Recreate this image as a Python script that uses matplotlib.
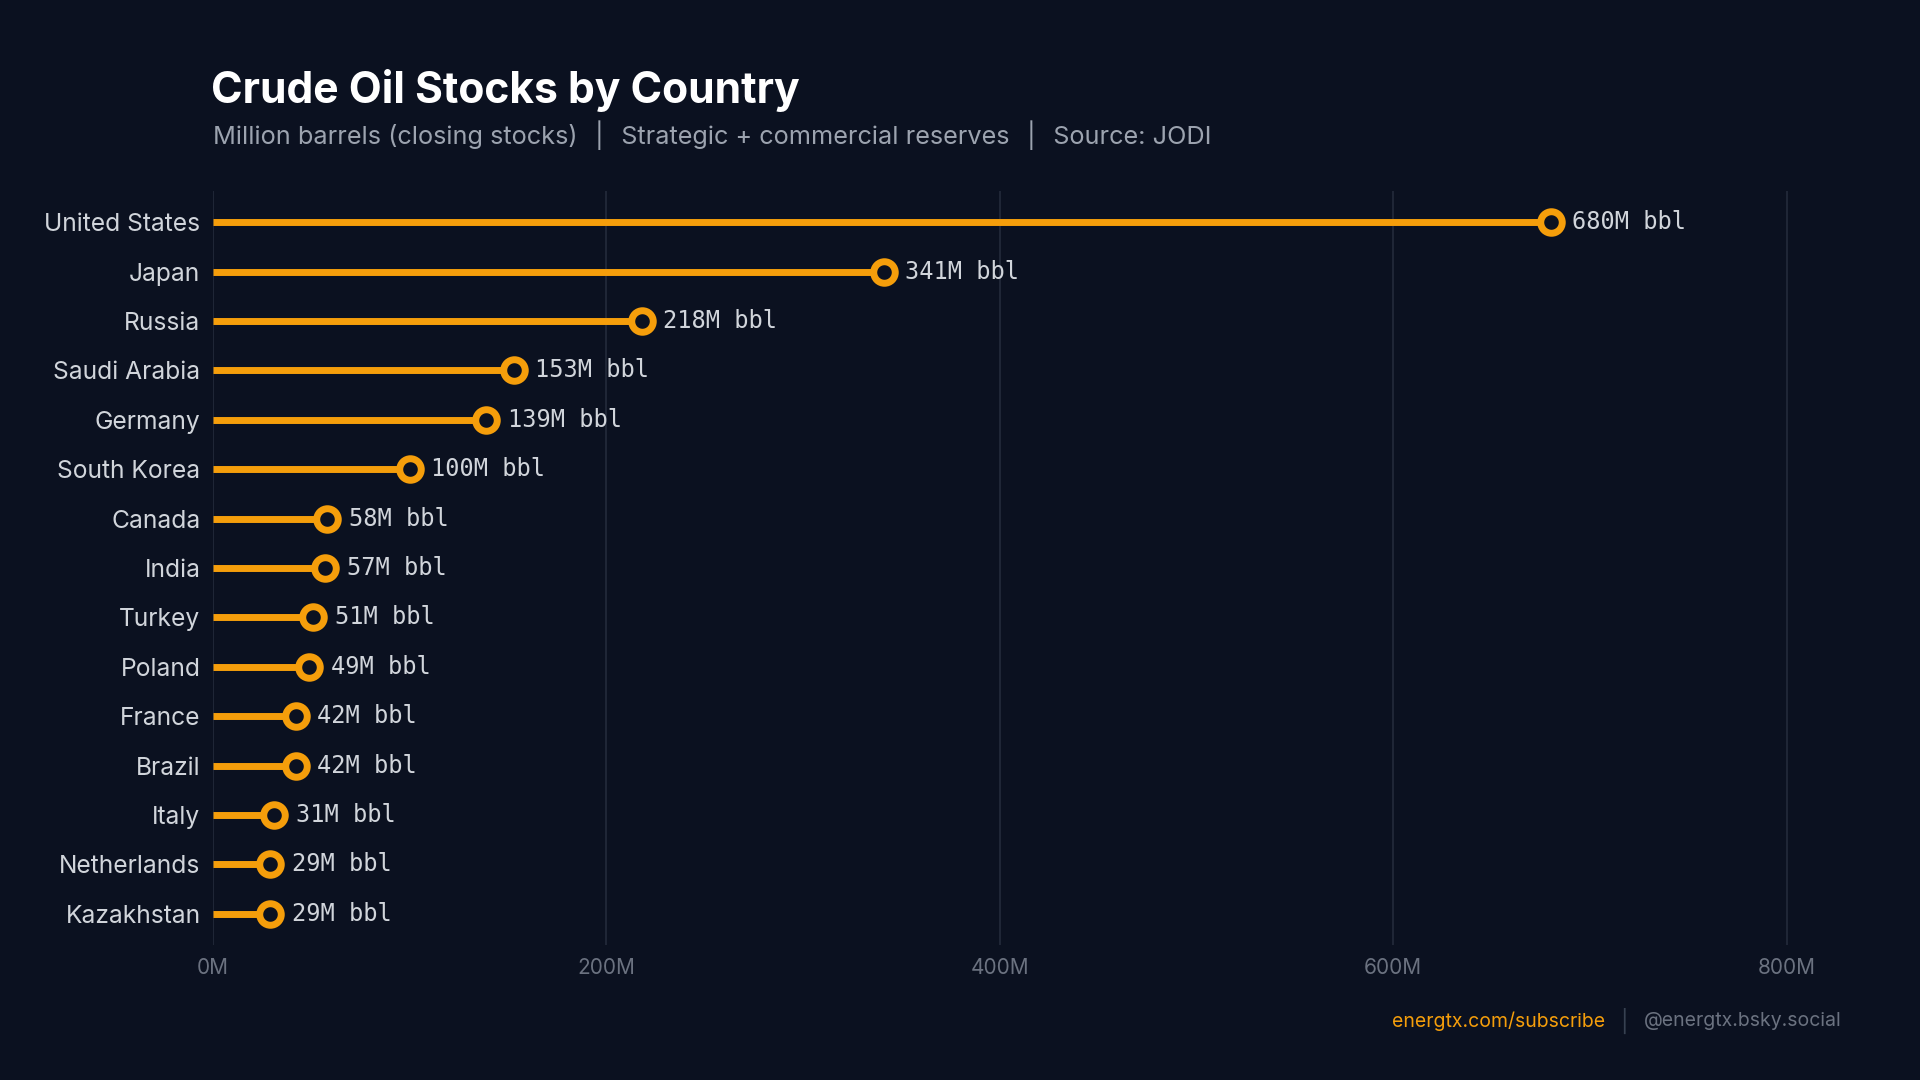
import matplotlib
matplotlib.use("Agg")
import matplotlib.pyplot as plt
from matplotlib.ticker import FuncFormatter

countries = ["United States", "Japan", "Russia", "Saudi Arabia", "Germany",
             "South Korea", "Canada", "India", "Turkey", "Poland", "France",
             "Brazil", "Italy", "Netherlands", "Kazakhstan"]
stocks = [680, 341, 218, 153, 139, 100, 58, 57, 51, 49, 42, 42, 31, 29, 29]
x_ticks = [0, 200, 400, 600, 800]

BG = "#0b1120"
ORANGE = "#f59e0b"
GRID = "#1f2636"
LABEL = "#d1d5db"
SUB = "#9ca3af"
TICK = "#6b7280"

plt.rcParams['font.family'] = ['Inter', 'DejaVu Sans']

fig = plt.figure(figsize=(19.2, 10.8), dpi=100, facecolor=BG)
ax = fig.add_axes([213/1920, 1 - 945/1080, (1826 - 213)/1920, (945 - 191)/1080])
ax.set_facecolor(BG)

n = len(countries)
ypos = list(range(n))
ax.hlines(ypos, 0, stocks, color=ORANGE, linewidth=5, zorder=3)
ax.plot(stocks, ypos, 'o', markersize=15.5, markerfacecolor=BG,
        markeredgecolor=ORANGE, markeredgewidth=5.0, zorder=4, linestyle='none')

for y, v in zip(ypos, stocks):
    ax.annotate(f"{v}M bbl", (v, y), xytext=(15.5, 0), textcoords='offset points',
                va='center', ha='left', fontsize=17, color=LABEL,
                family=['DejaVu Sans Mono'], zorder=5)

ax.set_xlim(0, 820)
ax.set_ylim(n - 1 + 0.63, -0.63)
ax.set_yticks(ypos)
ax.set_yticklabels(countries, fontsize=17.7, color=LABEL)
ax.set_xticks(x_ticks)
ax.xaxis.set_major_formatter(FuncFormatter(lambda v, p: f"{int(v)}M"))
ax.tick_params(axis='x', colors=TICK, labelsize=15, length=0, pad=9)
ax.tick_params(axis='y', length=0, pad=9)
for lbl in ax.get_xticklabels():
    lbl.set_color(TICK)
ax.grid(axis='x', color=GRID, linewidth=1.5, zorder=0)
ax.grid(axis='y', visible=False)
for s in ax.spines.values():
    s.set_visible(False)

fig.text(211/1920, 1 - 91/1080, "Crude Oil Stocks by Country", fontsize=30.7,
         fontweight='bold', color='white', va='center', ha='left')
fig.text(213/1920, 1 - 135/1080,
         "Million barrels (closing stocks)  │  Strategic + commercial reserves  │  Source: JODI",
         fontsize=18.2, color=SUB, va='center', ha='left')

t2 = fig.text(1842/1920, 1 - 1021/1080, "@energtx.bsky.social", fontsize=14,
              color=TICK, va='center', ha='right')
fig.canvas.draw()
r = fig.canvas.get_renderer()
bb = t2.get_window_extent(r)
t_sep = fig.text((bb.x0 - 14)/1920, 1 - 1021/1080, "│", fontsize=16,
                 color="#374151", va='center', ha='right')
bb2 = t_sep.get_window_extent(r)
fig.text((bb2.x0 - 12)/1920, 1 - 1021/1080, "energtx.com/subscribe", fontsize=14,
         color=ORANGE, va='center', ha='right')

fig.savefig("out.png", dpi=100, facecolor=BG)
